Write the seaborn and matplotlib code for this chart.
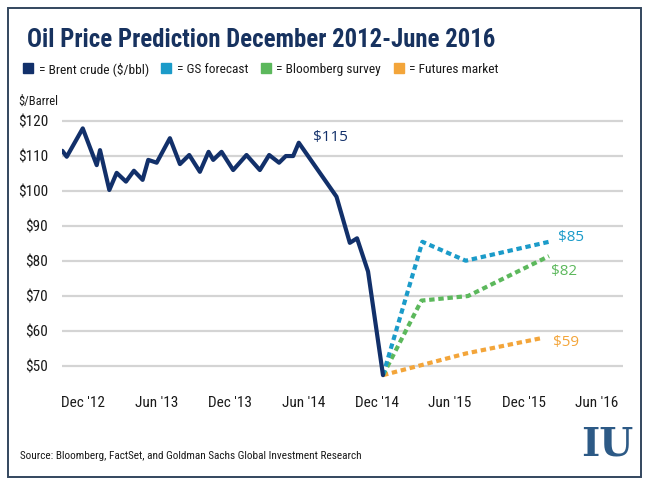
# oil price prediction chart, Dec 2012 - Jun 2016

import matplotlib
matplotlib.use('Agg')
import matplotlib.pyplot as plt
from matplotlib.lines import Line2D
from matplotlib.patches import Rectangle
import seaborn as sns

# x values are months counted from Dec 2012
brent_month = [-1.69, -1.33, -0.02, 1.12, 1.39, 2.15, 2.75, 3.51, 4.16, 4.87, 5.33,
               6.02, 7.10, 7.92, 8.68, 9.55, 10.26, 10.64, 11.32, 12.27, 13.36, 14.45,
               15.21, 16.02, 16.57, 17.17, 17.63, 20.71, 21.80, 22.39, 23.29, 24.51]
brent_price = [111.4, 109.7, 117.8, 107.3, 111.6, 100.2, 105.1, 102.6, 105.7, 103.1, 108.8,
               108.0, 115.0, 107.6, 110.2, 105.4, 111.1, 108.8, 111.1, 105.9, 110.2, 105.9,
               110.2, 108.0, 109.9, 109.9, 113.7, 98.3, 85.1, 86.4, 76.9, 47.3]

gs_month = [24.51, 27.73, 31.27, 38.07]
gs_price = [47.3, 85.4, 80.0, 85.4]

bbg_month = [24.51, 27.65, 31.45, 38.07]
bbg_price = [47.3, 68.6, 69.9, 81.3]

fut_month = [24.51, 31.3, 37.63]
fut_price = [47.3, 53.5, 58.0]

tick_month = [0, 6, 12, 18, 24, 30, 36, 42]
tick_labels = ["Dec '12", "Jun '13", "Dec '13", "Jun '14", "Dec '14", "Jun '15", "Dec '15", "Jun '16"]
y_ticks = [50, 60, 70, 80, 90, 100, 110, 120]

series_names = ['= Brent crude ($/bbl)', '= GS forecast', '= Bloomberg survey', '= Futures market']

navy = '#12306a'
blue = '#1b9bc9'
green = '#5cb85c'
orange = '#f3a53a'

sns.set_style('white')
plt.rcParams['font.family'] = ['Roboto Condensed', 'DejaVu Sans']

W, H = 650, 491
fig = plt.figure(figsize=(6.5, 4.91), dpi=100)
ax = fig.add_axes([62 / W, 1 - 386.7 / H, 561 / W, 273 / H])

dots = (0, (1.3, 0.9))
sns.lineplot(x=fut_month, y=fut_price, color=orange, linewidth=3, linestyle=dots, ax=ax)
sns.lineplot(x=bbg_month, y=bbg_price, color=green, linewidth=3, linestyle=dots, ax=ax)
sns.lineplot(x=gs_month, y=gs_price, color=blue, linewidth=3, linestyle=dots, ax=ax)
sns.lineplot(x=brent_month, y=brent_price, color=navy, linewidth=3, ax=ax)

lab = dict(family=['Open Sans', 'DejaVu Sans'], fontsize=11, va='center', ha='left')
ax.text(18.8, 115.1, '$115', color=navy, **lab)
ax.text(38.8, 86.5, '$85', color=blue, **lab)
ax.text(38.2, 76.9, '$82', color=green, **lab)
ax.text(38.4, 56.6, '$59', color=orange, **lab)

ax.set_xlim(-1.716, 44.12)
ax.set_ylim(44, 122)
ax.set_xticks(tick_month)
ax.set_xticklabels(tick_labels)
ax.set_yticks(y_ticks)
ax.set_yticklabels(['$' + str(v) for v in y_ticks])
ax.tick_params(axis='both', length=0, labelsize=11, labelcolor='#1a1a1a')
ax.tick_params(axis='x', pad=7)
ax.tick_params(axis='y', pad=10)
ax.yaxis.grid(True, color='#d4d4d4', linewidth=1.6)
ax.set_axisbelow(True)
ax.set_xlabel('')
ax.set_ylabel('')
sns.despine(ax=ax, left=True, bottom=True)

# title, legend and notes
fig.text(27 / W, 1 - 40 / H, 'Oil Price Prediction December 2012-June 2016',
         fontsize=17.8, fontweight='bold', color='#17325f', va='center', ha='left')

handles = [Line2D([], [], marker='s', linestyle='none', markersize=6.5, color=c)
           for c in [navy, blue, green, orange]]
fig.legend(handles, series_names, loc='center left', bbox_to_anchor=(22 / W, 1 - 69 / H),
           ncol=4, frameon=False, fontsize=9.6, handlelength=0.9, handletextpad=0.35,
           columnspacing=0.85, borderaxespad=0, borderpad=0, labelcolor='#1a1a1a')

fig.text(18 / W, 1 - 101 / H, '$/Barrel', fontsize=9, color='#1a1a1a', va='center', ha='left')
fig.text(20 / W, 1 - 456 / H, 'Source: Bloomberg, FactSet, and Goldman Sachs Global Investment Research',
         fontsize=8.1, color='#1a1a1a', va='center', ha='left')

fig.text(607 / W, 1 - 445 / H, 'IU', family='DejaVu Serif', fontsize=28, fontweight='bold',
         color='#2d5a86', va='center', ha='center')

fig.patches.append(Rectangle((8 / W, 1 - 477 / H), 633 / W, 469 / H, transform=fig.transFigure,
                             fill=False, edgecolor='#33465e', linewidth=1.4))

plt.savefig('out.png', dpi=100)
